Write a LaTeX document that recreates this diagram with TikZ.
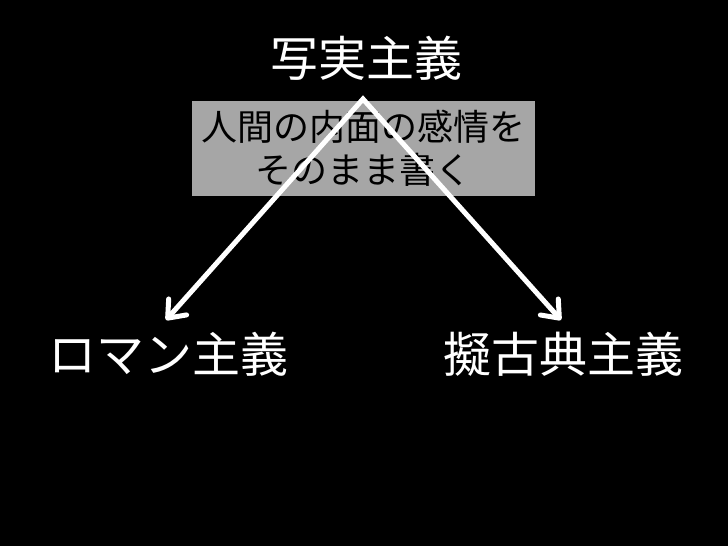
\documentclass[tikz,border=0pt]{standalone}
\usepackage{fontspec}
\setmainfont{Noto Sans CJK JP}
\usetikzlibrary{arrows.meta}
\definecolor{boxgray}{RGB}{166,166,166}
\begin{document}
\begin{tikzpicture}[x=1pt,y=-1pt,
  biglabel/.style={text=white,font=\fontsize{48}{58}\selectfont,inner sep=0pt},
  notebox/.style={fill=boxgray,text=black,align=center,minimum width=343pt,minimum height=95pt,inner sep=0pt,font=\fontsize{36}{43}\selectfont},
  barb/.tip={Straight Barb[length=15pt,width=24pt,line cap=round,line join=round]},
  conn/.style={draw=white,line width=5pt,line cap=round,line join=miter,miter limit=10,arrows={barb-barb}}]
\fill[black] (0,0) rectangle (728,546);
\useasboundingbox (0,0) rectangle (728,546);
\node[biglabel] (real) at (366,58.5) {写実主義};
\node[biglabel] (roman) at (168,354) {ロマン主義};
\node[biglabel] (classic) at (563,354) {擬古典主義};
\node[notebox] (note) at (363.5,148.5) {人間の内面の感情を\\そのまま書く};
\coordinate (apex) at (363,99);
\coordinate (ltip) at (166,320);
\coordinate (rtip) at (561,320);
\draw[conn] (ltip) -- (apex) -- (rtip);
\end{tikzpicture}
\end{document}
